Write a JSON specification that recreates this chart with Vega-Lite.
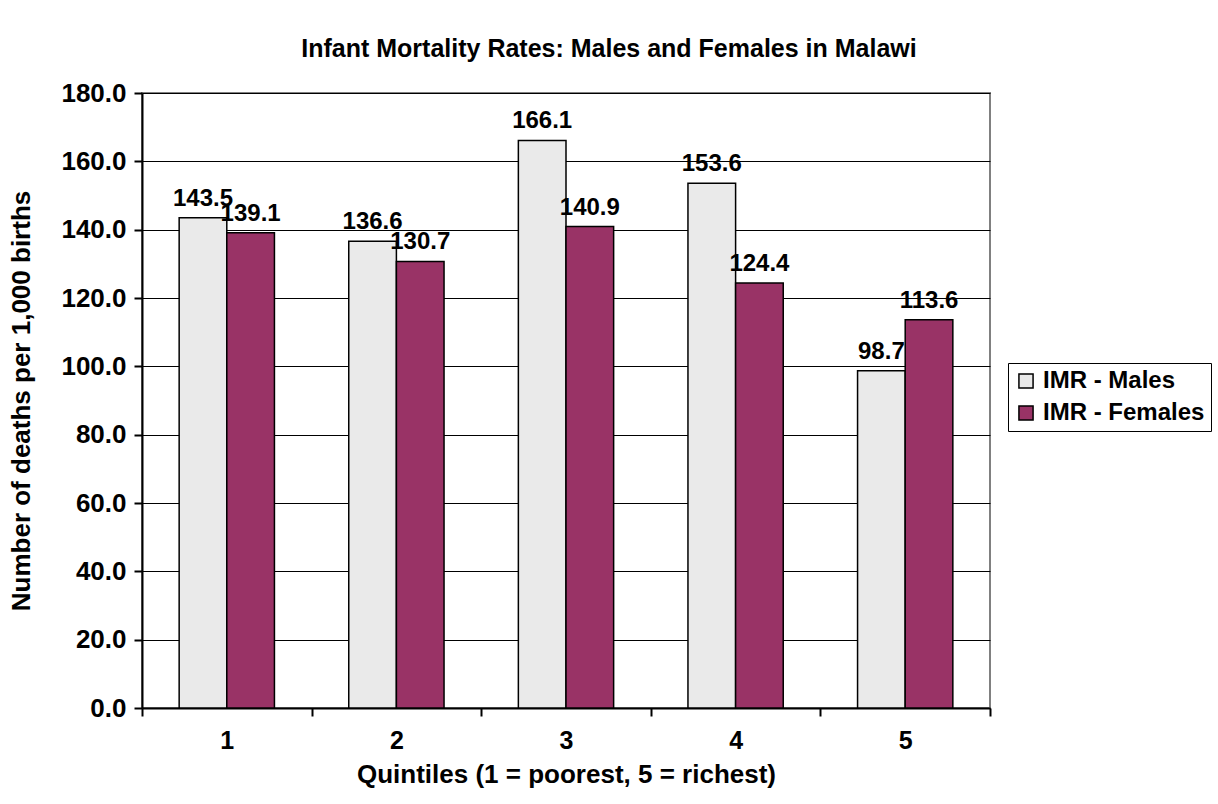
{
  "$schema": "https://vega.github.io/schema/vega-lite/v6.json",
  "width": 848,
  "height": 615,
  "autosize": {"type": "none"},
  "padding": {"left": 142, "top": 93, "right": 228, "bottom": 96},
  "background": "white",
  "title": {
    "text": "Infant Mortality Rates: Males and Females in Malawi",
    "fontSize": 25,
    "fontWeight": "bold",
    "anchor": "middle",
    "frame": "group",
    "dx": 43,
    "offset": 18,
    "color": "black"
  },
  "data": {
    "values": [
      {"quintile": "1", "sex": "IMR - Males", "rate": 143.5},
      {"quintile": "1", "sex": "IMR - Females", "rate": 139.1},
      {"quintile": "2", "sex": "IMR - Males", "rate": 136.6},
      {"quintile": "2", "sex": "IMR - Females", "rate": 130.7},
      {"quintile": "3", "sex": "IMR - Males", "rate": 166.1},
      {"quintile": "3", "sex": "IMR - Females", "rate": 140.9},
      {"quintile": "4", "sex": "IMR - Males", "rate": 153.6},
      {"quintile": "4", "sex": "IMR - Females", "rate": 124.4},
      {"quintile": "5", "sex": "IMR - Males", "rate": 98.7},
      {"quintile": "5", "sex": "IMR - Females", "rate": 113.6}
    ]
  },
  "encoding": {
    "x": {
      "field": "quintile",
      "type": "ordinal",
      "scale": {"paddingInner": 0, "paddingOuter": 0},
      "axis": {
        "tickBand": "extent",
        "grid": false,
        "domainColor": "black",
        "domainWidth": 2,
        "tickColor": "black",
        "tickWidth": 2,
        "tickSize": 8,
        "labelAngle": 0,
        "labelFontSize": 25,
        "labelFontWeight": "bold",
        "labelColor": "black",
        "labelPadding": 12,
        "title": "Quintiles (1 = poorest, 5 = richest)",
        "titleFontSize": 26,
        "titleFontWeight": "bold",
        "titleColor": "black",
        "titlePadding": 8
      }
    },
    "xOffset": {
      "field": "sex",
      "type": "nominal",
      "sort": ["IMR - Males", "IMR - Females"],
      "scale": {"paddingOuter": 0.78, "paddingInner": 0}
    },
    "y": {
      "field": "rate",
      "type": "quantitative",
      "scale": {"domain": [0, 180], "nice": false},
      "axis": {
        "values": [0, 20, 40, 60, 80, 100, 120, 140, 160, 180],
        "format": ".1f",
        "grid": true,
        "gridColor": "black",
        "gridWidth": 1,
        "gridOpacity": 1,
        "domainColor": "black",
        "domainWidth": 2,
        "tickColor": "black",
        "tickWidth": 2,
        "tickSize": 8,
        "labelFontSize": 26,
        "labelFontWeight": "bold",
        "labelColor": "black",
        "labelPadding": 8,
        "title": "Number of deaths per 1,000 births",
        "titleFontSize": 26,
        "titleFontWeight": "bold",
        "titleColor": "black",
        "titlePadding": 26
      }
    }
  },
  "layer": [
    {
      "mark": {"type": "bar", "stroke": "black", "strokeWidth": 1.5},
      "encoding": {
        "color": {
          "field": "sex",
          "type": "nominal",
          "sort": ["IMR - Males", "IMR - Females"],
          "scale": {"domain": ["IMR - Males", "IMR - Females"], "range": ["#EAEAEA", "#993366"]},
          "legend": {
            "orient": "none",
            "legendX": 866,
            "legendY": 270,
            "title": null,
            "labelFontSize": 24,
            "labelFontWeight": "bold",
            "labelColor": "black",
            "labelLimit": 400,
            "symbolType": "square",
            "symbolSize": 200,
            "symbolStrokeColor": "black",
            "symbolStrokeWidth": 1.5,
            "strokeColor": "black",
            "fillColor": "white",
            "padding": 6,
            "rowPadding": 8,
            "labelOffset": 5
          }
        }
      }
    },
    {
      "mark": {"type": "text", "dy": -7, "baseline": "bottom", "fontSize": 24, "fontWeight": "bold", "color": "black"},
      "encoding": {"text": {"field": "rate", "type": "quantitative", "format": ".1f"}}
    }
  ],
  "config": {
    "font": "Liberation Sans",
    "view": {"stroke": "#808080", "strokeWidth": 2}
  }
}
